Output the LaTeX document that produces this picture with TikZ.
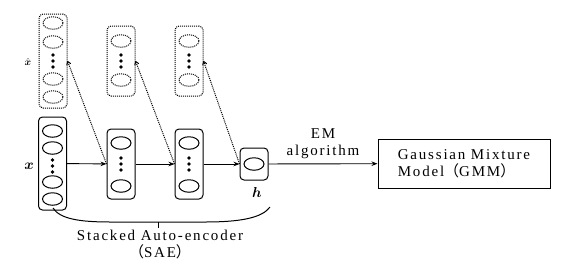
\documentclass[tikz,border=0pt]{standalone}
\usepackage{fontspec}
\usepackage{amsmath}
\setmainfont{Liberation Serif}[LetterSpace=12]
\newfontfamily\cjk{Noto Sans CJK SC}
\usetikzlibrary{shapes.geometric,arrows.meta}
\begin{document}
\begin{tikzpicture}[x=1pt,y=-1pt,
  layerbox/.style={draw,rounded corners=4pt,line width=1pt,minimum width=28pt,inner sep=0pt},
  ghostbox/.style={layerbox,densely dotted},
  unit/.style={draw,ellipse,line width=1pt,minimum width=20pt,minimum height=12.5pt,inner sep=0pt},
  ghostunit/.style={unit,densely dotted},
  dot/.style={fill,circle,inner sep=0pt,minimum size=3.6pt},
  flow/.style={-{Stealth[length=6pt,width=4.5pt]},line width=0.9pt},
  recon/.style={-{To[length=4pt,width=5pt]},densely dotted,line width=1pt},
  txt/.style={font=\fontsize{15}{17}\selectfont,align=center,inner sep=0pt}
]
\useasboundingbox (0,0) rectangle (574,269);

% reconstructed layers (dotted)
\node[ghostbox,minimum height=94pt] (ra) at (53,61) {};
\node[ghostbox,minimum height=70pt] (rb) at (121,61) {};
\node[ghostbox,minimum height=70pt] (rc) at (189,61) {};
\foreach \y [count=\i] in {23,42,79,97} \node[ghostunit] (ra\i) at (53,\y) {};
\foreach \b/\x in {rb/121,rc/189}{
  \node[ghostunit] (\b1) at (\x,41) {};
  \node[ghostunit] (\b2) at (\x,80) {};
}
\foreach \x in {53,121,189}
  \foreach \y in {55,61,67} \node[dot] at (\x,\y) {};

% encoder layers
\node[layerbox,minimum height=93pt] (lx) at (52.5,163.5) {};
\node[layerbox,minimum height=70pt] (l2) at (121,164) {};
\node[layerbox,minimum height=70pt] (l3) at (189,164) {};
\node[layerbox,minimum height=32pt] (lh) at (254,164) {};
\foreach \y [count=\i] in {131,148,182,199} \node[unit] (lx\i) at (52.5,\y) {};
\foreach \b/\x in {l2/121,l3/189}{
  \node[unit] (\b1) at (\x,143) {};
  \node[unit] (\b2) at (\x,186) {};
}
\node[unit] (lh1) at (254,164) {};
\foreach \y in {160,166,172} \node[dot] at (52.5,\y) {};
\foreach \x in {121,189}
  \foreach \y in {158,164,170} \node[dot] at (\x,\y) {};

% labels
\node[inner sep=0pt] (xhat) at (28,62) {\fontsize{10}{12}\selectfont$\hat{\boldsymbol{x}}$};
\node[inner sep=0pt] (xlab) at (29,166) {\fontsize{15}{17}\selectfont$\boldsymbol{x}$};
\node[inner sep=0pt] (hlab) at (257,192) {\fontsize{15}{17}\selectfont$\boldsymbol{h}$};

% mixture model
\node[draw,line width=1pt,minimum width=172pt,minimum height=49pt,
      txt,align=left] (gmm) at (464,163.5)
  {Gaussian Mixture\\Model{\cjk（}GMM{\cjk）}};

% forward connections
\draw[flow] (lx) -- (l2);
\draw[flow] (l2) -- (l3);
\draw[flow] (l3) -- (lh);
\draw[flow] (lh) -- node[txt,above=5pt] (em) {EM\\algorithm} (gmm);

% reconstruction links
\draw[recon] (l2.west) -- (ra.east);
\draw[recon] (l3.west) -- (rb.east);
\draw[recon] (lh.west) -- (rc.east);

% brace grouping the encoder
\coordinate (bl) at (53,208);
\coordinate (br) at (270,207);
\coordinate (bm) at (158,222);
\draw[line width=1pt] (bl) .. controls (60,219) and (80,222) .. (110,222)
  -- (205,222) .. controls (240,222) and (262,218) .. (br);
\draw[line width=1pt] (bm) -- ++(0,6);
\node[txt] (sae) at (160,245) {Stacked Auto-encoder\\{\cjk（}SAE{\cjk）}};
\end{tikzpicture}
\end{document}
